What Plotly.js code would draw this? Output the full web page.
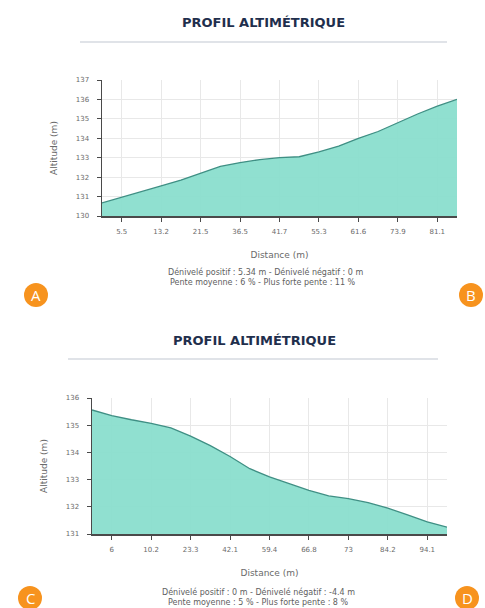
<!DOCTYPE html>
<html>
<head>
<meta charset="utf-8">
<script src="https://cdn.plot.ly/plotly-3.0.1.min.js"></script>
<style>html,body{margin:0;padding:0;background:#fff;}#chart{width:485px;height:608px;}</style>
</head>
<body>
<div id="chart"></div>
<script>
// ---- data ----
const altitudeTop = [130.67, 130.95, 131.25, 131.55, 131.85, 132.2, 132.55, 132.75, 132.9, 133.0,
  133.05, 133.3, 133.6, 134.0, 134.35, 134.8, 135.25, 135.65, 136.0];
const distanceLabelsTop = ["5.5", "13.2", "21.5", "36.5", "41.7", "55.3", "61.6", "73.9", "81.1"];
const altitudeBottom = [135.56, 135.35, 135.2, 135.07, 134.9, 134.6, 134.25, 133.85, 133.4, 133.1,
  132.85, 132.6, 132.4, 132.3, 132.15, 131.95, 131.7, 131.45, 131.25];
const distanceLabelsBottom = ["6", "10.2", "23.3", "42.1", "59.4", "66.8", "73", "84.2", "94.1"];
const yTicksTop = [130, 131, 132, 133, 134, 135, 136, 137];
const yTicksBottom = [131, 132, 133, 134, 135, 136];
const titleText = "PROFIL ALTIMÉTRIQUE";
const statsTop = ["Dénivelé positif : 5.34 m - Dénivelé négatif : 0 m", "Pente moyenne : 6 % - Plus forte pente : 11 %"];
const statsBottom = ["Dénivelé positif : 0 m - Dénivelé négatif : -4.4 m", "Pente moyenne : 5 % - Plus forte pente : 8 %"];
const badgeLetters = ["A", "B", "C", "D"];

// ---- helpers ----
const W = 485, H = 608;
const px = x => x / W;
const py = y => 1 - y / H;
const idx = arr => arr.map((_, i) => i);
const oddIdx = n => { const r = []; for (let i = 1; i < n; i += 2) r.push(i); return r; };

const fillColor = "rgba(138,222,205,0.95)";
const lineColor = "#3f8f84";
const txt = "#6a6a6a";

const traces = [
  {x: idx(altitudeTop), y: altitudeTop, type: "scatter", mode: "lines", fill: "tozeroy",
   fillcolor: fillColor, line: {color: lineColor, width: 1.3}, xaxis: "x", yaxis: "y", hoverinfo: "skip"},
  {x: idx(altitudeBottom), y: altitudeBottom, type: "scatter", mode: "lines", fill: "tozeroy",
   fillcolor: fillColor, line: {color: lineColor, width: 1.3}, xaxis: "x2", yaxis: "y2", hoverinfo: "skip"}
];

const axisCommon = {
  showline: true, linecolor: "#4a4a4a", linewidth: 1.5,
  ticks: "outside", ticklen: 4, tickcolor: "#4a4a4a", tickwidth: 1,
  showgrid: true, gridcolor: "#e8e8e8", gridwidth: 1, zeroline: false,
  tickfont: {family: "DejaVu Sans", size: 7, color: txt}
};
const xTitle = {text: "Distance (m)", font: {family: "DejaVu Sans", size: 9, color: txt}, standoff: 17};
const yTitle = {text: "Altitude (m)", font: {family: "DejaVu Sans", size: 9, color: txt}, standoff: 16};

const layout = {
  width: W, height: H, margin: {l: 0, r: 0, t: 0, b: 0},
  paper_bgcolor: "#fff", plot_bgcolor: "#fff", showlegend: false,
  xaxis: Object.assign({}, axisCommon, {
    domain: [px(102), px(457)], range: [0, 18], anchor: "y",
    tickmode: "array", tickvals: oddIdx(altitudeTop.length), ticktext: distanceLabelsTop,
    ticklabelstandoff: 4, title: xTitle
  }),
  yaxis: Object.assign({}, axisCommon, {
    domain: [py(216), py(80)], range: [130, 137], anchor: "x",
    tickmode: "array", tickvals: yTicksTop, ticklabelstandoff: 6, title: yTitle
  }),
  xaxis2: Object.assign({}, axisCommon, {
    domain: [px(92), px(447)], range: [0, 18], anchor: "y2",
    tickmode: "array", tickvals: oddIdx(altitudeBottom.length), ticktext: distanceLabelsBottom,
    ticklabelstandoff: 4, title: xTitle
  }),
  yaxis2: Object.assign({}, axisCommon, {
    domain: [py(534), py(398)], range: [131, 136], anchor: "x2",
    tickmode: "array", tickvals: yTicksBottom, ticklabelstandoff: 6, title: yTitle
  }),
  shapes: [
    {type: "line", xref: "paper", yref: "paper", x0: px(80), x1: px(447), y0: py(42), y1: py(42), line: {color: "#e0e3e8", width: 2}},
    {type: "line", xref: "paper", yref: "paper", x0: px(68), x1: px(438), y0: py(359), y1: py(359), line: {color: "#e0e3e8", width: 2}}
  ],
  annotations: [
    {text: "<b>" + titleText + "</b>", xref: "paper", yref: "paper", x: px(263), y: py(22), xanchor: "center", yanchor: "middle",
     showarrow: false, font: {family: "DejaVu Sans", size: 13, color: "#1f2f4d"}},
    {text: "<b>" + titleText + "</b>", xref: "paper", yref: "paper", x: px(254), y: py(340), xanchor: "center", yanchor: "middle",
     showarrow: false, font: {family: "DejaVu Sans", size: 13, color: "#1f2f4d"}},
    {text: statsTop[0], xref: "paper", yref: "paper", x: px(265), y: py(272), xanchor: "center", yanchor: "middle",
     showarrow: false, font: {family: "DejaVu Sans", size: 8, color: "#606060"}},
    {text: statsTop[1], xref: "paper", yref: "paper", x: px(263), y: py(282), xanchor: "center", yanchor: "middle",
     showarrow: false, font: {family: "DejaVu Sans", size: 8, color: "#606060"}},
    {text: statsBottom[0], xref: "paper", yref: "paper", x: px(258), y: py(592), xanchor: "center", yanchor: "middle",
     showarrow: false, font: {family: "DejaVu Sans", size: 8, color: "#606060"}},
    {text: statsBottom[1], xref: "paper", yref: "paper", x: px(258), y: py(602), xanchor: "center", yanchor: "middle",
     showarrow: false, font: {family: "DejaVu Sans", size: 8, color: "#606060"}}
  ]
};

const badges = [[36, 295], [471, 295], [30, 598], [467, 598]];
badges.forEach((b, i) => {
  const r = 12;
  layout.shapes.push({type: "circle", xref: "paper", yref: "paper",
    x0: px(b[0] - r), x1: px(b[0] + r), y0: py(b[1] + r), y1: py(b[1] - r),
    fillcolor: "#f7931e", line: {width: 0}});
  layout.annotations.push({text: badgeLetters[i], xref: "paper", yref: "paper", x: px(b[0]), y: py(b[1]),
    xanchor: "center", yanchor: "middle", showarrow: false, font: {family: "Open Sans", size: 15, color: "#fff"}});
});

Plotly.newPlot("chart", traces, layout, {staticPlot: true, displayModeBar: false});
</script>
</body>
</html>
